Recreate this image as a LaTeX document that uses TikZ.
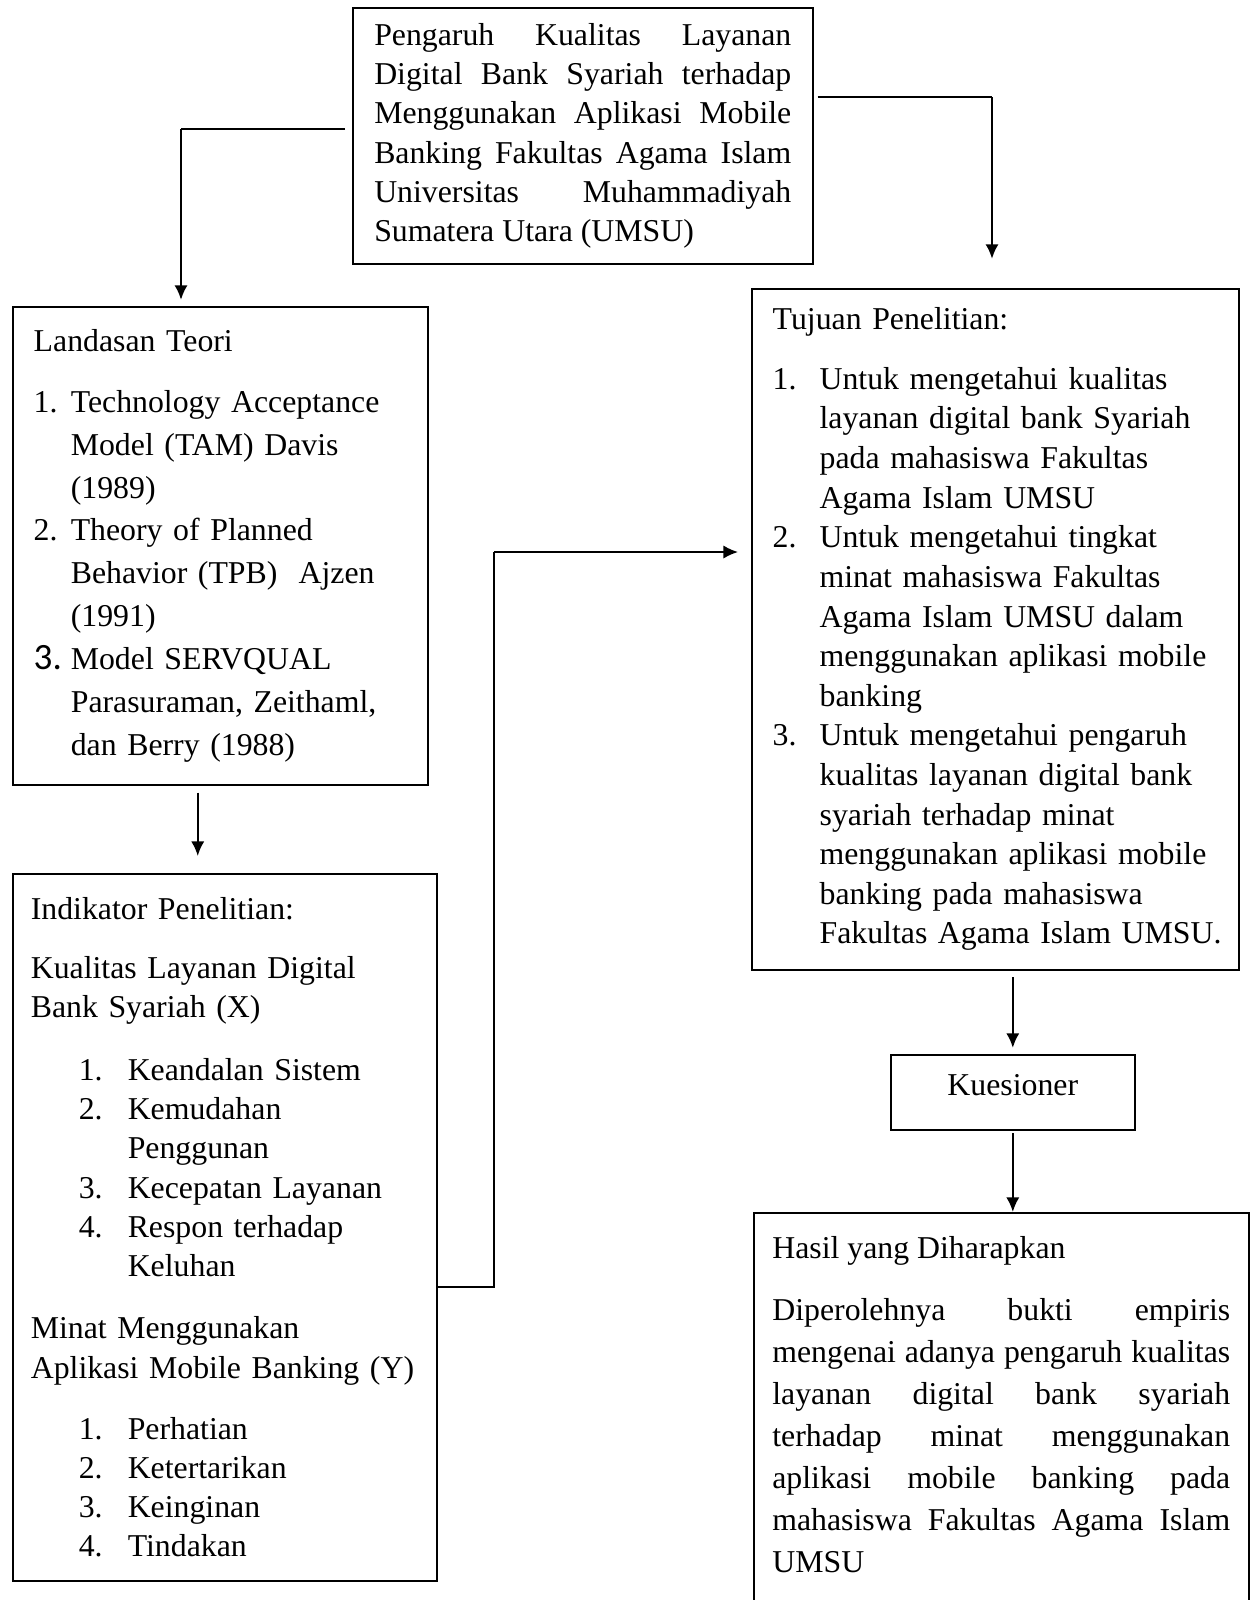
\documentclass[tikz,border=0pt]{standalone}
\usepackage{fontspec}
\setmainfont{Liberation Serif}
\newfontfamily\numfont{Carlito}
\usetikzlibrary{arrows.meta}

\pretolerance=10000
\hbadness=10000

\newcommand{\numbox}[2]{\makebox[#1][l]{#2}}

\tikzset{
  box/.style={draw, line width=0.6pt, anchor=north west, inner ysep=0pt, align=left,
    font={\fontsize{12pt}{14.8pt}\selectfont}},
  arr/.style={line width=0.9pt, -{Latex[length=5.5pt,width=5pt]}},
  link/.style={line width=0.6pt}
}

\begin{document}
\begin{tikzpicture}[x=0.3774pt,y=0.3774pt,yscale=-1,xscale=1]
\path[use as bounding box] (0,0) rectangle (1251,1600);

% Text Node
\node (top) [box, align=justify, text width=157.4pt, inner xsep=8.1pt, minimum width=173.6pt, minimum height=96.6pt] at (352,7)
{Pengaruh Kualitas Layanan\linebreak Digital Bank Syariah terhadap\linebreak Menggunakan Aplikasi Mobile\linebreak Banking Fakultas Agama Islam\linebreak Universitas Muhammadiyah\linebreak Sumatera Utara (UMSU)};

% Text Node
\node (land) [box, text width=140.8pt, inner xsep=7.9pt, minimum width=156.6pt, minimum height=180.4pt, font={\fontsize{12pt}{16.2pt}\selectfont}] at (12,306)
{Landasan Teori\\[6.8pt]
\numbox{14pt}{1.}Technology Acceptance\\
\hspace*{14pt}Model (TAM) Davis\\
\hspace*{14pt}(1989)\\
\numbox{14pt}{2.}Theory of Planned\\
\hspace*{14pt}Behavior (TPB)\ \ Ajzen\\
\hspace*{14pt}(1991)\\
\numbox{14pt}{\numfont\fontsize{14pt}{16pt}\selectfont 3.}Model SERVQUAL\\
\hspace*{14pt}Parasuraman, Zeithaml,\\
\hspace*{14pt}dan Berry (1988)};

% Text Node
\node (indi) [box, text width=146.4pt, inner xsep=6.8pt, minimum width=160pt, minimum height=266.8pt] at (12,873)
{Indikator Penelitian:\\[7.5pt]
Kualitas Layanan Digital\\
Bank Syariah (X)\\[9pt]
\hspace*{18.1pt}\numbox{18.5pt}{1.}Keandalan Sistem\\
\hspace*{18.1pt}\numbox{18.5pt}{2.}Kemudahan\\
\hspace*{36.6pt}Penggunan\\
\hspace*{18.1pt}\numbox{18.5pt}{3.}Kecepatan Layanan\\
\hspace*{18.1pt}\numbox{18.5pt}{4.}Respon terhadap\\
\hspace*{36.6pt}Keluhan\\[8.7pt]
Minat Menggunakan\\
Aplikasi Mobile Banking (Y)\\[8.3pt]
\hspace*{18.1pt}\numbox{18.5pt}{1.}Perhatian\\
\hspace*{18.1pt}\numbox{18.5pt}{2.}Ketertarikan\\
\hspace*{18.1pt}\numbox{18.5pt}{3.}Keinginan\\
\hspace*{18.1pt}\numbox{18.5pt}{4.}Tindakan};

% Text Node
\node (tuju) [box, text width=168pt, inner xsep=7.9pt, minimum width=183.8pt, minimum height=257pt, font={\fontsize{12pt}{14.95pt}\selectfont}] at (751,288)
{Tujuan Penelitian:\\[7.5pt]
\numbox{17.7pt}{1.}Untuk mengetahui kualitas\\
\hspace*{17.7pt}layanan digital bank Syariah\\
\hspace*{17.7pt}pada mahasiswa Fakultas\\
\hspace*{17.7pt}Agama Islam UMSU\\
\numbox{17.7pt}{2.}Untuk mengetahui tingkat\\
\hspace*{17.7pt}minat mahasiswa Fakultas\\
\hspace*{17.7pt}Agama Islam UMSU dalam\\
\hspace*{17.7pt}\mbox{menggunakan aplikasi mobile}\\
\hspace*{17.7pt}banking\\
\numbox{17.7pt}{3.}Untuk mengetahui pengaruh\\
\hspace*{17.7pt}kualitas layanan digital bank\\
\hspace*{17.7pt}syariah terhadap minat\\
\hspace*{17.7pt}\mbox{menggunakan aplikasi mobile}\\
\hspace*{17.7pt}banking pada mahasiswa\\
\hspace*{17.7pt}\mbox{Fakultas Agama Islam UMSU.}};

% Text Node
\node (kues) [box, align=center, minimum width=92.1pt, minimum height=28.3pt, text depth=5.2pt] at (890,1054) {Kuesioner};

% Text Node
\node (hasil) [box, align=justify, text width=172.8pt, inner xsep=7pt, inner ysep=8.8pt, minimum width=186.8pt, font={\fontsize{12pt}{15.9pt}\selectfont}] at (753,1212)
{Hasil yang Diharapkan\par\vspace{7.5pt}
Diperolehnya bukti empiris\linebreak mengenai adanya pengaruh kualitas\linebreak layanan digital bank syariah\linebreak terhadap minat menggunakan\linebreak aplikasi mobile banking pada\linebreak mahasiswa Fakultas Agama Islam\linebreak UMSU\par\rule{0pt}{150pt}};

%Straight Lines
\coordinate (kneeL) at (181,129);
\coordinate (kneeR) at (992,97);
\coordinate (midT) at (494,552);
\coordinate (midB) at (494,1287);

\draw [link, shorten <=2.6pt] (top.west |- kneeL) -- (kneeL);
\draw [arr, shorten >=2.3pt] (kneeL) -- (kneeL |- land.north);
\draw [link, shorten <=1.5pt] (top.east |- kneeR) -- (kneeR);
\draw [arr, shorten >=11pt] (kneeR) -- (kneeR |- tuju.north);
\draw [arr, shorten <=2.6pt, shorten >=6.4pt] ([xshift=-8.5pt]land.south) -- ([xshift=-8.5pt]land.south |- indi.north);
\draw [link] (midB -| indi.east) -- (midB) -- (midT);
\draw [arr, line width=0.7pt, shorten >=4.9pt] (midT) -- (midT -| tuju.west);
\draw [arr, shorten <=2.6pt, shorten >=2.3pt] (kues.north |- tuju.south) -- (kues.north);
\draw [arr, shorten <=1pt] (kues.south) -- (kues.south |- hasil.north);

\end{tikzpicture}
\end{document}
